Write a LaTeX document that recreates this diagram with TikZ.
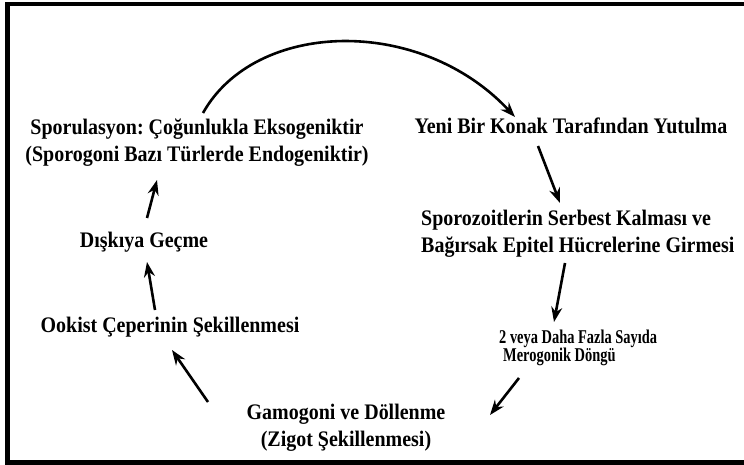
\documentclass[tikz,border=0pt]{standalone}
\usepackage{fontspec}
\setmainfont{Liberation Serif}[FakeStretch=0.9]
\newfontfamily\narrowserif{Liberation Serif}[FakeStretch=0.74]
\usetikzlibrary{arrows.meta,calc}
\frenchspacing

\begin{document}
\begin{tikzpicture}[
  x=1pt,
  y=-1pt,
  >={Stealth[length=15pt,width=11pt]},
  stage/.style={font=\bfseries\fontsize{22.2}{27}\selectfont, inner sep=0pt},
  smallstage/.style={font=\narrowserif\bfseries\fontsize{19.5}{18}\selectfont, inner sep=0pt},
  cyc/.style={->, line width=2.6pt},
  frame/.style={line width=4.5pt}
]
  \useasboundingbox (0,0) rectangle (744,465);
  \draw[frame] (744,4) -- (7.5,4) -- (7.5,462.5) -- (744,462.5);

  \node[stage, align=center] (spor) at (197,143) {Sporulasyon: Çoğunlukla Eksogeniktir\\(Sporogoni Bazı Türlerde Endogeniktir)};
  \node[stage] (yeni) at (571,126) {Yeni Bir Konak Tarafından Yutulma};
  \node[stage, align=left, anchor=west] (sporoz) at (421,234) {Sporozoitlerin Serbest Kalması ve\\Bağırsak Epitel Hücrelerine Girmesi};
  \node[smallstage, align=left, anchor=west] (iki) at (499,348) {2 veya Daha Fazla Sayıda\\\hspace{4pt}Merogonik Döngü};
  \node[stage, align=center] (gam) at (346,428) {Gamogoni ve Döllenme\\(Zigot Şekillenmesi)};
  \node[stage] (ook) at (170,327) {Ookist Çeperinin Şekillenmesi};
  \node[stage] (dis) at (144,242) {Dışkıya Geçme};

  \draw[cyc] ($(spor)+(6,-30)$) .. controls (255,20) and (420,15) .. ($(yeni)+(-56,-9)$);
  \draw[cyc] ($(yeni)+(-33,20)$) -- ($(sporoz.west)+(139,-31)$);
  \draw[cyc] ($(sporoz.west)+(144,29)$) -- ($(iki.west)+(55,-26)$);
  \draw[cyc] ($(iki.west)+(20,30)$) -- ($(gam)+(144,-13)$);
  \draw[cyc] ($(gam)+(-138,-26)$) -- ($(ook)+(2,23)$);
  \draw[cyc] ($(ook)+(-15,-17)$) -- ($(dis)+(3,20)$);
  \draw[cyc] ($(dis)+(3,-24)$) -- ($(spor)+(-40,37)$);
\end{tikzpicture}
\end{document}
